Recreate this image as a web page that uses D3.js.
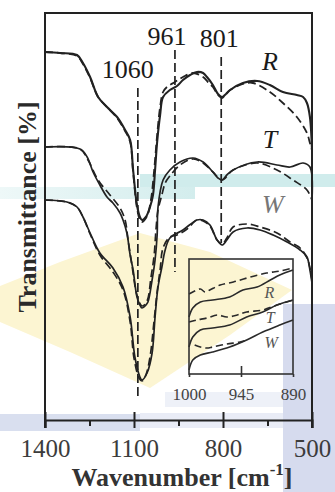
<!DOCTYPE html>
<html><head><meta charset="utf-8">
<script src="https://cdn.jsdelivr.net/npm/d3@7"></script>
<style>html,body{margin:0;padding:0;background:#fff;} svg{display:block;}</style>
</head><body>
<svg id="chart" width="335" height="492"></svg>
<script>
// ---------- data ----------
const xTicks = [1400, 1100, 800, 500];
const xMinorTicks = [1250, 950, 650];
const insetTicks = [1000, 945, 890];
const seriesNames = ["R", "T", "W"];
const peakLabels = ["1060", "961", "801"];
const peakWn = [1087, 962, 806];
const peakTop = [83, 92.5, 90.75];
const peakBottom = [5.5, 37, 44.25];

// main spectra: [wavenumber, transmittance (a.u.)]
const rSolid = [[1400,92],[1349,91.75],[1292,91.25],[1272,89.25],[1248,85.75],[1221,80.75],[1191,78.25],[1157,75.75],[1130,72.5],[1113,70],[1103,62.5],[1090,53.75],[1080,50.75],[1073,50],[1060,50.75],[1046,53.25],[1036,56.25],[1029,62.5],[1022,69.5],[1012,76.25],[1002,80.75],[979,82.5],[955,83.5],[935,85],[911,86.25],[888,87],[867,86.75],[854,85.75],[834,83.75],[817,81.5],[803,80.75],[790,81.5],[776,82.5],[733,84.25],[685,84.75],[642,83.75],[598,82],[551,81.25],[530,80.75],[517,79.25],[507,75.75],[500,67.5]];
const rDashed = [[1400,92],[1349,91.75],[1292,91],[1272,89],[1248,85.5],[1221,80.75],[1191,78.25],[1157,75.5],[1130,72.25],[1113,69.5],[1103,62],[1090,53],[1080,50],[1073,49.5],[1056,51],[1043,55],[1032,62.5],[1022,71.25],[1012,78.25],[1002,82],[989,83.25],[962,84.5],[935,85.75],[901,86.75],[867,85.75],[851,84.5],[834,83.25],[817,81.25],[803,80.5],[790,81.5],[776,82.5],[733,84],[699,84.25],[642,82],[598,79.25],[551,75.75],[517,71.75],[507,69.25],[500,67.5]];
const tSolid = [[1400,68.25],[1282,67.75],[1258,65.75],[1238,62],[1215,58.75],[1191,55.75],[1171,54.25],[1147,51.75],[1137,50],[1124,46.75],[1113,41.25],[1103,37.5],[1090,30.75],[1080,28.75],[1073,28],[1060,28.75],[1053,29.5],[1039,35],[1029,40],[1022,46.25],[1019,53.25],[1002,60],[979,62.5],[945,64.5],[901,65.5],[867,64.5],[834,62],[817,60.5],[803,60],[787,61.25],[766,62.5],[685,64.5],[618,63.75],[574,63.25],[530,64.25],[507,63.25],[500,55]];
const tDashed = [[1400,68.25],[1282,67.75],[1255,65],[1221,60],[1181,56.25],[1147,53],[1130,50],[1120,45],[1107,38.75],[1090,31.25],[1073,28.5],[1056,29.75],[1043,35.5],[1032,41.25],[1026,47.5],[1019,52.5],[1006,56.25],[995,59.25],[979,61],[945,63.75],[901,65.25],[867,64.25],[834,62],[803,60],[766,62.5],[685,64.25],[618,62.5],[564,60],[517,57.5],[500,55]];
const wSolid = [[1400,55],[1326,54.5],[1292,53.25],[1272,50.75],[1248,46.75],[1215,41.75],[1171,38],[1137,33.25],[1113,25.75],[1097,15.75],[1080,10.75],[1073,10],[1056,11.75],[1039,16.75],[1029,25.75],[1019,33.25],[1006,38.25],[995,42.5],[979,45.5],[935,47.5],[888,50],[867,50],[844,48.75],[820,45],[803,43.75],[787,45],[766,47],[719,48],[675,47.5],[631,46.25],[584,44.5],[540,42.5],[517,40.75],[507,37.5],[500,34.25]];
const wDashed = [[1400,55],[1326,54.5],[1292,53.25],[1272,50.75],[1248,46.5],[1215,41.25],[1171,37],[1137,32.5],[1113,24.5],[1100,15.5],[1083,10.5],[1073,9.75],[1060,11.25],[1046,15.75],[1032,25],[1022,32],[1012,37.5],[1002,43],[979,45.75],[955,46.25],[921,47.75],[888,50],[867,49.75],[844,48.5],[820,45],[803,44],[787,45.5],[766,48.25],[719,49],[675,48.25],[618,46.75],[574,44.5],[540,43],[517,40.5],[507,38],[500,35]];

// inset spectra (1000-890 cm-1)
const rInsetSolid = [[1000,57],[996,66],[988,72],[975,74],[957,77],[943,84],[928,87],[914,94],[904,99],[890,104]];
const rInsetDashed = [[1000,80],[994,83],[988,85],[983,82],[978,84],[967,89],[953,92],[935,97],[918,101],[904,103],[890,106]];
const tInsetSolid = [[1000,27],[996,37],[988,44],[975,46],[957,49],[939,57],[922,62],[907,69],[890,74]];
const tInsetDashed = [[1000,52],[992,54],[981,56],[970,59],[960,57],[949,59],[939,62],[922,64],[907,69],[890,74]];
const wInsetSolid = [[1000,4],[996,14],[988,19],[975,22],[957,27],[939,34],[922,42],[904,49],[890,54]];
const wInsetDashed = [[994,29],[988,27],[981,26],[975,27],[960,30],[946,32],[939,34]];

// ---------- drawing ----------
const svg = d3.select("#chart");
const serif = "'Liberation Serif','Times New Roman',serif";
const ink = "#222";

// faint background decorations
const deco = svg.append("g");
deco.append("polygon")
  .attr("points", "0,286 60,262 140,233 210,252 292,290 230,335 150,388 70,352 0,322")
  .attr("fill", "#fcf5d2");
const gT = svg.append("defs").append("linearGradient").attr("id","tealL").attr("x1","0").attr("x2","1");
gT.append("stop").attr("offset","0").attr("stop-color","#eef8f8");
gT.append("stop").attr("offset","1").attr("stop-color","#d3eded");
deco.append("rect").attr("x",0).attr("y",187).attr("width",195).attr("height",12).attr("fill","url(#tealL)");
deco.append("rect").attr("x",140).attr("y",174).attr("width",195).attr("height",13).attr("fill","#d0ecec");
deco.append("rect").attr("x",283).attr("y",304).attr("width",52).attr("height",188).attr("fill","#d6dbee");
deco.append("rect").attr("x",0).attr("y",414).attr("width",140).attr("height",17).attr("fill","#d9dfef");
deco.append("rect").attr("x",140).attr("y",413).attr("width",143).attr("height",15).attr("fill","#e9ecf6");
deco.append("rect").attr("x",165).attr("y",392).attr("width",118).attr("height",15).attr("fill","#eef1f8");

// scales
const x = d3.scaleLinear().domain([1400, 500]).range([45, 312]);
const y = d3.scaleLinear().domain([0, 101.75]).range([420, 13]);
const line = d3.line().x(d => x(d[0])).y(d => y(d[1])).curve(d3.curveCatmullRom.alpha(0.5));

const curves = [
  {d: rSolid, dash: null, w: 2.1},
  {d: rDashed, dash: "8,4", w: 1.8},
  {d: tSolid, dash: null, w: 1.7},
  {d: tDashed, dash: "8,4", w: 1.7},
  {d: wSolid, dash: null, w: 1.7},
  {d: wDashed, dash: "8,4", w: 1.7}
];
svg.append("g").selectAll("path").data(curves).join("path")
  .attr("d", c => line(c.d))
  .attr("fill", "none")
  .attr("stroke", ink)
  .attr("stroke-width", c => c.w)
  .attr("stroke-dasharray", c => c.dash);

// peak marker lines
const peaks = peakWn.map((w, i) => ({w, top: peakTop[i], bot: peakBottom[i], label: peakLabels[i]}));
svg.append("g").selectAll("line").data(peaks).join("line")
  .attr("x1", d => x(d.w)).attr("x2", d => x(d.w))
  .attr("y1", d => y(d.top)).attr("y2", d => y(d.bot))
  .attr("stroke", ink).attr("stroke-width", 1.7).attr("stroke-dasharray", "9,4");
const labelDx = [-10, -8, -2];
const labelDy = [-10, -5, -10];
svg.append("g").selectAll("text").data(peaks).join("text")
  .attr("x", (d, i) => x(d.w) + labelDx[i])
  .attr("y", (d, i) => y(d.top) + labelDy[i])
  .attr("text-anchor", "middle")
  .attr("font-family", serif).attr("font-size", 26).attr("fill", "#1a1a1a")
  .text(d => d.label);

// series labels
const seriesLabelPos = [[642, 87.5], [642, 68], [632, 51.75]];
const seriesLabelColor = ["#1a1a1a", "#1a1a1a", "#777"];
svg.append("g").selectAll("text").data(seriesNames).join("text")
  .attr("x", (d, i) => x(seriesLabelPos[i][0]))
  .attr("y", (d, i) => y(seriesLabelPos[i][1]))
  .attr("text-anchor", "middle")
  .attr("font-family", serif).attr("font-style", "italic").attr("font-size", 26)
  .attr("fill", (d, i) => seriesLabelColor[i])
  .text(d => d);

// frame
svg.append("path")
  .attr("d", `M${x(1400)},428 V${y(101.75)} H${x(500)} V428`)
  .attr("fill", "none").attr("stroke", ink).attr("stroke-width", 2);

// bottom axis
const axG = svg.append("g").attr("transform", "translate(0,420)");
axG.call(d3.axisBottom(x).tickValues(xTicks).tickSize(8).tickFormat(d3.format("d")));
axG.select(".domain").attr("stroke", ink).attr("stroke-width", 2);
axG.selectAll(".tick line").attr("y1", -8).attr("y2", 8).attr("stroke", ink).attr("stroke-width", 2);
axG.selectAll(".tick text").attr("y", 37).attr("dy", 0)
  .attr("font-family", serif).attr("font-size", 25).attr("fill", "#3c3c3c");
const minG = svg.append("g").attr("transform", "translate(0,420)");
minG.call(d3.axisBottom(x).tickValues(xMinorTicks).tickSize(6).tickFormat(""));
minG.select(".domain").remove();
minG.selectAll(".tick line").attr("stroke", ink).attr("stroke-width", 2);

// axis titles
const xt = svg.append("text").attr("x", 182).attr("y", 486).attr("text-anchor", "middle")
  .attr("font-family", serif).attr("font-weight", "bold").attr("font-size", 26).attr("fill", "#333");
xt.append("tspan").text("Wavenumber [cm");
xt.append("tspan").attr("font-size", 17).attr("dy", -11).text("-1");
xt.append("tspan").attr("dy", 11).text("]");
svg.append("text").attr("transform", "translate(36,207) rotate(-90)")
  .attr("text-anchor", "middle")
  .attr("font-family", serif).attr("font-weight", "bold").attr("font-size", 26).attr("fill", "#2a2a2a")
  .text("Transmittance [%]");

// inset
const xi = d3.scaleLinear().domain([1000, 890]).range([189, 293]);
const yi = d3.scaleLinear().domain([0, 115]).range([374, 259]);
const lineI = d3.line().x(d => xi(d[0])).y(d => yi(d[1])).curve(d3.curveCatmullRom.alpha(0.5));
const insetCurves = [
  {d: rInsetSolid, dash: null}, {d: rInsetDashed, dash: "7,4"},
  {d: tInsetSolid, dash: null}, {d: tInsetDashed, dash: "7,4"},
  {d: wInsetSolid, dash: null}, {d: wInsetDashed, dash: "7,4"}
];
svg.append("g").selectAll("path").data(insetCurves).join("path")
  .attr("d", c => lineI(c.d))
  .attr("fill", "none").attr("stroke", "#2a2a2a").attr("stroke-width", 1.6)
  .attr("stroke-dasharray", c => c.dash);
svg.append("rect").attr("x", xi(1000)).attr("y", yi(115))
  .attr("width", xi(890) - xi(1000)).attr("height", yi(0) - yi(115))
  .attr("fill", "none").attr("stroke", "#333").attr("stroke-width", 1.6);
const axI = svg.append("g").attr("transform", `translate(0,${yi(0)})`);
axI.call(d3.axisBottom(xi).tickValues(insetTicks).tickSize(3).tickFormat(d3.format("d")));
axI.select(".domain").remove();
axI.selectAll(".tick line").attr("y1", (d) => d === 945 ? -8 : 0).attr("y2", 3)
  .attr("stroke", "#333").attr("stroke-width", 1.6);
axI.selectAll(".tick text").attr("y", 26).attr("dy", 0)
  .attr("font-family", serif).attr("font-size", 17).attr("fill", "#444");
const insetLabelPos = [[915, 76], [914, 51], [913, 26]];
svg.append("g").selectAll("text").data(seriesNames).join("text")
  .attr("x", (d, i) => xi(insetLabelPos[i][0]))
  .attr("y", (d, i) => yi(insetLabelPos[i][1]))
  .attr("text-anchor", "middle")
  .attr("font-family", serif).attr("font-style", "italic").attr("font-size", 16).attr("fill", "#555")
  .text(d => d);
</script>
</body></html>
